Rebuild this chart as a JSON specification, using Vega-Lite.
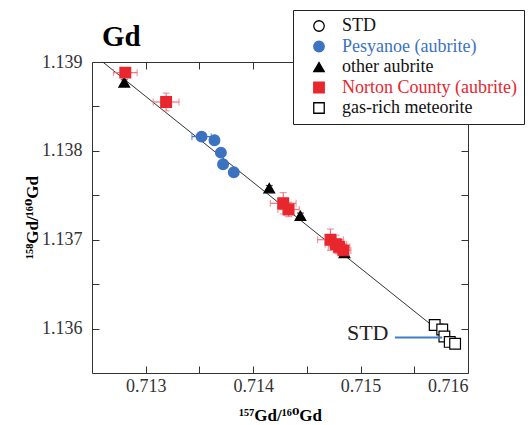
{
  "$schema": "https://vega.github.io/schema/vega-lite/v6.json",
  "width": 376,
  "height": 311,
  "autosize": "none",
  "padding": {"left": 92, "top": 62, "right": 63, "bottom": 52},
  "background": "white",
  "title": {"text": "Gd", "anchor": "start", "frame": "group", "font": "Times New Roman, Liberation Serif, DejaVu Serif, serif", "fontSize": 29, "fontWeight": "bold", "color": "black", "baseline": "alphabetic", "offset": 17, "dx": 10, "dy": 82},
  "config": {
    "view": {"stroke": null},
    "font": "Times New Roman, Liberation Serif, DejaVu Serif, serif",
    "legend": {"labelFont": "Times New Roman, Liberation Serif, DejaVu Serif, serif", "labelFontSize": 18},
    "axis": {"domainColor": "#333", "domainWidth": 1, "tickColor": "#333", "tickSize": -7, "tickWidth": 1, "labelFont": "Times New Roman, Liberation Serif, DejaVu Serif, serif", "labelFontSize": 18, "labelColor": "#333", "grid": false, "titleFont": "Times New Roman, Liberation Serif, DejaVu Serif, serif", "titleFontSize": 17, "titleFontWeight": "bold", "titleColor": "black"}
  },
  "datasets": {
    "pts": [
      {"group": "STD", "x": 0.71576, "y": 1.13599},
      {"group": "gas-rich meteorite", "x": 0.71569, "y": 1.13604},
      {"group": "gas-rich meteorite", "x": 0.71576, "y": 1.13599},
      {"group": "gas-rich meteorite", "x": 0.71578, "y": 1.13591},
      {"group": "gas-rich meteorite", "x": 0.71583, "y": 1.13585},
      {"group": "gas-rich meteorite", "x": 0.71588, "y": 1.13583},
      {"group": "Pesyanoe (aubrite)", "x": 0.71352, "y": 1.13816, "xerr": 0.00009},
      {"group": "Pesyanoe (aubrite)", "x": 0.71364, "y": 1.13812},
      {"group": "Pesyanoe (aubrite)", "x": 0.71370, "y": 1.13798},
      {"group": "Pesyanoe (aubrite)", "x": 0.71372, "y": 1.13785},
      {"group": "Pesyanoe (aubrite)", "x": 0.71382, "y": 1.13776},
      {"group": "other aubrite", "x": 0.71280, "y": 1.13877, "yerr": 0.00003},
      {"group": "other aubrite", "x": 0.71415, "y": 1.13758, "yerr": 0.00003},
      {"group": "other aubrite", "x": 0.71444, "y": 1.13727, "yerr": 0.00003},
      {"group": "other aubrite", "x": 0.71485, "y": 1.13685},
      {"group": "Norton County (aubrite)", "x": 0.71281, "y": 1.13888, "xerr": 0.00011, "yerr": 0.00002},
      {"group": "Norton County (aubrite)", "x": 0.71319, "y": 1.13855, "xerr": 0.00012, "yerr": 0.0001},
      {"group": "Norton County (aubrite)", "x": 0.71428, "y": 1.13741, "xerr": 0.00012, "yerr": 0.00012},
      {"group": "Norton County (aubrite)", "x": 0.71433, "y": 1.13734, "xerr": 0.0001, "yerr": 0.00008},
      {"group": "Norton County (aubrite)", "x": 0.71472, "y": 1.13700, "xerr": 0.00012, "yerr": 0.00012},
      {"group": "Norton County (aubrite)", "x": 0.71477, "y": 1.13695, "xerr": 0.0001, "yerr": 0.0001},
      {"group": "Norton County (aubrite)", "x": 0.71480, "y": 1.13692, "xerr": 0.0001, "yerr": 0.00008},
      {"group": "Norton County (aubrite)", "x": 0.71484, "y": 1.13688, "xerr": 0.00007, "yerr": 0.00007}
    ]
  },
  "layer": [
    {
      "data": {"values": [{"x": 0.7126, "y": 1.139}, {"x": 0.71565, "y": 1.13605}]},
      "mark": {"type": "line", "color": "#333", "strokeWidth": 1},
      "encoding": {
        "x": {"field": "x", "type": "quantitative", "axis": {"orient": "top", "labels": false, "title": null, "values": [0.713, 0.7135, 0.714, 0.7145, 0.715, 0.7155, 0.716]}},
        "y": {"field": "y", "type": "quantitative", "axis": {"orient": "right", "labels": false, "title": null, "values": [1.136, 1.1365, 1.137, 1.1375, 1.138, 1.1385, 1.139]}}
      }
    },
    {
      "data": {"name": "pts"},
      "transform": [{"filter": "datum.xerr > 0"}],
      "mark": {"type": "errorbar", "ticks": {"size": 7}, "thickness": 1.2},
      "encoding": {
        "x": {"field": "x", "type": "quantitative", "axis": null},
        "xError": {"field": "xerr"},
        "y": {"field": "y", "type": "quantitative", "axis": null},
        "color": {"field": "group", "type": "nominal", "scale": {"domain": ["Pesyanoe (aubrite)", "other aubrite", "Norton County (aubrite)"], "range": ["#3b73c0", "black", "#f0707a"]}, "legend": null}
      }
    },
    {
      "data": {"name": "pts"},
      "transform": [{"filter": "datum.yerr > 0"}],
      "mark": {"type": "errorbar", "ticks": {"size": 7}, "thickness": 1.2},
      "encoding": {
        "y": {"field": "y", "type": "quantitative", "axis": null},
        "yError": {"field": "yerr"},
        "x": {"field": "x", "type": "quantitative", "axis": null},
        "color": {"field": "group", "type": "nominal", "scale": {"domain": ["Pesyanoe (aubrite)", "other aubrite", "Norton County (aubrite)"], "range": ["#3b73c0", "black", "#f0707a"]}, "legend": null}
      }
    },
    {
      "data": {"name": "pts"},
      "mark": {"type": "point", "filled": true, "opacity": 1, "strokeWidth": 1.2, "size": 115},
      "encoding": {
        "x": {"field": "x", "type": "quantitative", "scale": {"domain": [0.7125, 0.716], "zero": false, "nice": false},
          "axis": {"orient": "bottom", "values": [0.713, 0.7135, 0.714, 0.7145, 0.715, 0.7155, 0.716], "labelExpr": "abs(datum.value*1000 - round(datum.value*1000)) < 0.01 ? format(datum.value, '.3f') : ''", "labelPadding": 11, "title": "¹⁵⁷Gd/¹⁶⁰Gd", "titleX": 188, "titleY": 47, "titleBaseline": "alphabetic", "titleAlign": "center"}},
        "y": {"field": "y", "type": "quantitative", "scale": {"domain": [1.1355, 1.139], "zero": false, "nice": false},
          "axis": {"orient": "left", "values": [1.136, 1.1365, 1.137, 1.1375, 1.138, 1.1385, 1.139], "labelExpr": "abs(datum.value*1000 - round(datum.value*1000)) < 0.01 ? format(datum.value, '.3f') : ''", "labelPadding": 17, "title": "¹⁵⁸Gd/¹⁶⁰Gd", "titleX": -55, "titleY": 155, "titleBaseline": "alphabetic", "titleAlign": "center", "titleAngle": -90}},
        "shape": {"field": "group", "type": "nominal",
          "scale": {"domain": ["STD", "Pesyanoe (aubrite)", "other aubrite", "Norton County (aubrite)", "gas-rich meteorite"], "range": ["circle", "circle", "triangle-up", "square", "square"]},
          "legend": {"title": null, "orient": "none", "legendX": 201, "legendY": -52, "direction": "vertical", "fillColor": "white", "strokeColor": "#222", "padding": 7, "symbolOffset": 10, "symbolSize": 110, "symbolStrokeWidth": 1.3, "labelFont": "Times New Roman, Liberation Serif, DejaVu Serif, serif", "labelFontSize": 18, "labelOffset": 14, "rowPadding": 2.5, "labelLimit": 400,
            "labelColor": {"expr": "datum.value === 'Pesyanoe (aubrite)' ? '#3b73c0' : (datum.value === 'Norton County (aubrite)' ? '#e8262e' : '#111')"}}},
        "fill": {"field": "group", "type": "nominal",
          "scale": {"domain": ["STD", "Pesyanoe (aubrite)", "other aubrite", "Norton County (aubrite)", "gas-rich meteorite"], "range": ["white", "#3b73c0", "black", "#e8262e", "white"]}},
        "stroke": {"field": "group", "type": "nominal",
          "scale": {"domain": ["STD", "Pesyanoe (aubrite)", "other aubrite", "Norton County (aubrite)", "gas-rich meteorite"], "range": ["black", "#3b73c0", "black", "#e8262e", "black"]}}
      }
    },
    {
      "data": {"values": [{"x1": 0.71532, "x2": 0.71576, "y": 1.1359}]},
      "mark": {"type": "rule", "color": "#3d7cc9", "strokeWidth": 2},
      "encoding": {
        "x": {"field": "x1", "type": "quantitative", "axis": null},
        "x2": {"field": "x2"},
        "y": {"field": "y", "type": "quantitative", "axis": null}
      }
    },
    {
      "data": {"values": [{"x": 0.71526, "y": 1.13595, "label": "STD"}]},
      "mark": {"type": "text", "align": "right", "baseline": "middle", "font": "Times New Roman, Liberation Serif, DejaVu Serif, serif", "fontSize": 22, "color": "#222"},
      "encoding": {
        "x": {"field": "x", "type": "quantitative", "axis": null},
        "y": {"field": "y", "type": "quantitative", "axis": null},
        "text": {"field": "label"}
      }
    }
  ],
  "resolve": {"axis": {"x": "independent", "y": "independent"}}
}
